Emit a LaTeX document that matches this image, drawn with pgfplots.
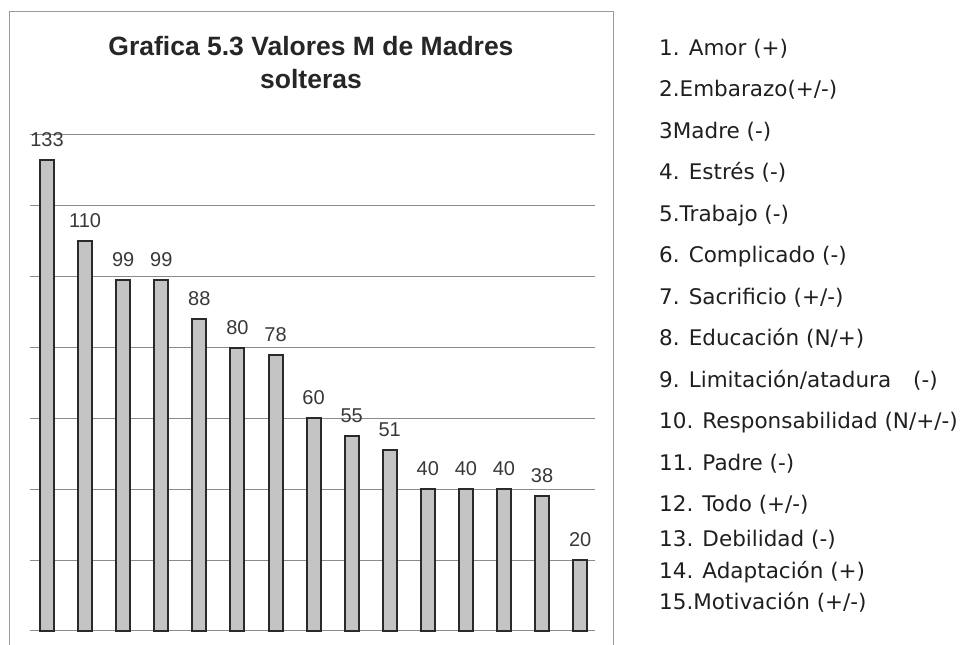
\documentclass[border=0pt]{standalone}
\usepackage{fontspec}
\setmainfont{Liberation Sans}
\newfontfamily\legfont{DejaVu Sans}
\usepackage{pgfplots}
\pgfplotsset{compat=1.18}
\definecolor{barfill}{HTML}{C4C4C4}
\definecolor{bardraw}{HTML}{2A2A2A}
\definecolor{gridc}{HTML}{8A8A8A}
\definecolor{boxc}{HTML}{9A9A9A}
\definecolor{txt}{HTML}{383838}
\begin{document}
\begin{tikzpicture}[x=1pt,y=1pt]
\useasboundingbox (0,0) rectangle (970,645);
\begin{axis}[
  at={(30pt,14pt)}, anchor=south west,
  scale only axis, width=565pt, height=496pt,
  xmin=0.553, xmax=15.39, ymin=0, ymax=140,
  xtick=\empty, ytick={0,20,...,140}, yticklabels={},
  major tick length=0pt, tick style={draw=none},
  ymajorgrids, grid style={draw=gridc, line width=1pt},
  axis line style={draw=none},
  clip=false,
  /pgf/number format/assume math mode=true,
  ybar, bar width=14pt,
  nodes near coords,
  every node near coord/.append style={font=\fontsize{20}{20}\selectfont, text=txt, yshift=9pt},
]
\addplot[fill=barfill, draw=bardraw, line width=2pt] coordinates {
(1,133) (2,110) (3,99) (4,99) (5,88) (6,80) (7,78) (8,60)
(9,55) (10,51) (11,40) (12,40) (13,40) (14,38) (15,20)};
\end{axis}
\draw[boxc, line width=0.9pt] (9,0) -- (9,634) -- (613,634) -- (613,0);
\node[anchor=base, font=\fontsize{26.5}{26.5}\selectfont\bfseries, text=black!85] at (311,589) {Grafica 5.3 Valores M de Madres};
\node[anchor=base, font=\fontsize{26.5}{26.5}\selectfont\bfseries, text=black!85] at (311,556) {solteras};
\begin{scope}[every node/.style={anchor=base west, font=\legfont\fontsize{21.5}{21.5}\selectfont, text=black!88, inner sep=0pt}]
\node at (659,645-56) {1. Amor (+)};
\node at (659,645-97) {2.Embarazo(+/-)};
\node at (659,645-139) {3Madre (-)};
\node at (659,645-180) {4. Estrés (-)};
\node at (659,645-222) {5.Trabajo (-)};
\node at (659,645-263) {6. Complicado (-)};
\node at (659,645-305) {7. Sacrificio (+/-)};
\node at (659,645-346) {8. Educación (N/+)};
\node at (659,645-388) {9. Limitación/atadura\hspace{22pt}(-)};
\node at (659,645-429) {10. Responsabilidad (N/+/-)};
\node at (659,645-471) {11. Padre (-)};
\node at (659,645-512) {12. Todo (+/-)};
\node at (659,645-547) {13. Debilidad (-)};
\node at (659,645-579) {14. Adaptación (+)};
\node at (659,645-610) {15.Motivación (+/-)};
\end{scope}
\end{tikzpicture}
\end{document}
